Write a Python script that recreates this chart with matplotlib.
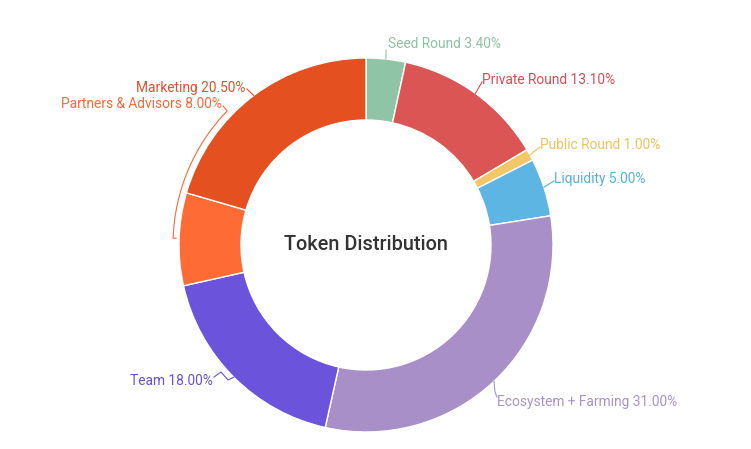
import numpy as np
import matplotlib.pyplot as plt

plt.rcParams['font.family'] = ['Roboto', 'DejaVu Sans']

# Data
labels = ['Seed Round', 'Private Round', 'Public Round', 'Liquidity',
          'Ecosystem + Farming', 'Team', 'Partners & Advisors', 'Marketing']
values = [3.4, 13.1, 1.0, 5.0, 31.0, 18.0, 8.0, 20.5]
colors = ['#8fc5a6', '#dc5555', '#f3c766', '#5cb5e3',
          '#a98fc7', '#6c53dc', '#fe6b35', '#e4501f']
text_colors = ['#8cc3a3', '#d84f53', '#efc25e', '#55afe0',
               '#a794c9', '#6a52d6', '#f86a3a', '#e0522a']

W, H = 751, 449
cx, cy = 366, H - 245
R, ring = 187, 62

fig = plt.figure(figsize=(W / 100, H / 100), dpi=100)
ax = fig.add_axes([0, 0, 1, 1])
wedges, _ = ax.pie(values, colors=colors, startangle=90, counterclock=False,
                   radius=R, center=(cx, cy),
                   wedgeprops=dict(width=ring, edgecolor='white', linewidth=1))
ax.set_xlim(0, W)
ax.set_ylim(0, H)
ax.set_aspect('equal')
ax.axis('off')

ax.text(cx, cy, 'Token Distribution', ha='center', va='center',
        fontsize=14.3, color='#333333', fontweight='medium')

fs = 9.9


def outer_point(w, r=R):
    a = np.deg2rad((w.theta1 + w.theta2) / 2)
    return cx + r * np.cos(a), cy + r * np.sin(a)


def py(y):
    return H - y


# label layout: text anchor (pixels), alignment, leader end (pixels)
layout = {
    'Seed Round': ((388, 44), 'left', (386, 50)),
    'Private Round': ((482, 80), 'left', (482, 82)),
    'Public Round': ((540, 145), 'left', (540, 147)),
    'Liquidity': ((554, 179), 'left', (554, 181)),
    'Ecosystem + Farming': ((497, 402), 'left', (497, 397)),
    'Marketing': ((246, 88), 'right', (247, 89)),
}

for w, lab, val, tc in zip(wedges, labels, values, text_colors):
    txt = f'{lab} {val:.2f}%'
    if lab in layout:
        (tx, ty), ha, (lx, ly) = layout[lab]
        ox, oy = outer_point(w)
        if lab == 'Ecosystem + Farming':
            ax.plot([ox, ox + 1, lx], [oy, py(392), py(ly)], color=tc, lw=0.8)
        else:
            ax.plot([ox, lx], [oy, py(ly)], color=tc, lw=0.8)
        ax.text(tx, py(ty), txt, ha=ha, va='center', fontsize=fs, color=tc)
    elif lab == 'Team':
        ox, oy = outer_point(w)
        ax.plot([ox, 228, 221, 214], [oy, py(380), py(372), py(377)],
                color=tc, lw=0.8)
        ax.text(213, py(381), txt, ha='right', va='center', fontsize=fs, color=tc)
    elif lab == 'Partners & Advisors':
        a = np.deg2rad(np.linspace(136, 178, 60))
        xs = cx + 193 * np.cos(a)
        ys = cy + 193 * np.sin(a)
        ax.plot(np.r_[223, xs, xs[-1] + 3], np.r_[py(106), ys, ys[-1]],
                color=tc, lw=0.8)
        ax.text(222, py(104), txt, ha='right', va='center', fontsize=fs, color=tc)

fig.savefig('out.png', dpi=100, facecolor='white')
